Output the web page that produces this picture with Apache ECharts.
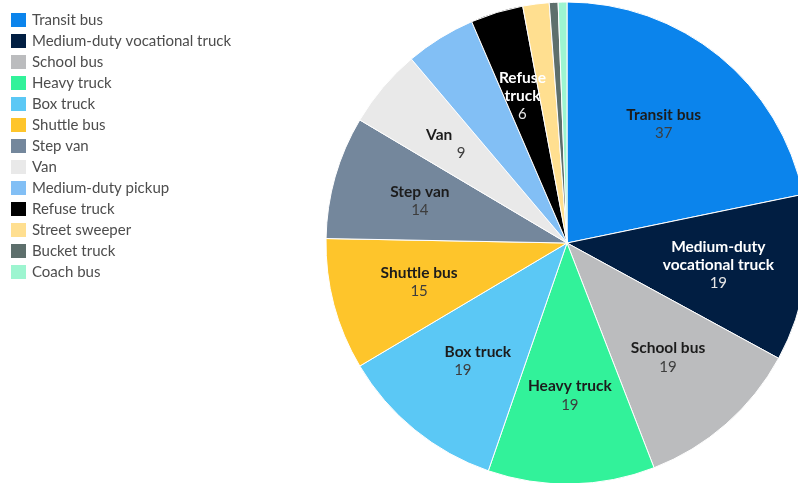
<!DOCTYPE html>
<html>
<head>
<meta charset="utf-8">
<script src="https://cdn.jsdelivr.net/npm/echarts@6/dist/echarts.min.js"></script>
<style>
  html, body { margin: 0; padding: 0; background: #fff; }
  #chart { width: 798px; height: 483px; }
</style>
</head>
<body>
<div id="chart"></div>
<script>
// Vehicle types and counts, clockwise from the top
const categories = [
  'Transit bus', 'Medium-duty vocational truck', 'School bus', 'Heavy truck',
  'Box truck', 'Shuttle bus', 'Step van', 'Van', 'Medium-duty pickup',
  'Refuse truck', 'Street sweeper', 'Bucket truck', 'Coach bus'
];
const counts = [37, 19, 19, 19, 19, 15, 14, 9, 8, 6, 3, 1, 1];
const colors = [
  '#0b84ec', '#011e42', '#bbbcbe', '#32f29a', '#5bc8f5', '#fec52b', '#74879c',
  '#e9e9e9', '#82bff5', '#000000', '#ffdf90', '#5d6f6c', '#9df5d0'
];
// Slice labels (empty = no label); dark slices get white text
const sliceLabels = [
  'Transit bus', 'Medium-duty\nvocational truck', 'School bus', 'Heavy truck',
  'Box truck', 'Shuttle bus', 'Step van', 'Van', '',
  'Refuse\ntruck', '', '', ''
];
const whiteText = ['Medium-duty vocational truck', 'Refuse truck'];

// horizontal nudge between name and value lines inside a label (px)
const labelNudge = { 'Van': -22, 'Box truck': 15 };

const chart = echarts.init(document.getElementById('chart'), null, { renderer: 'canvas' });

const center = [567, 243];
const outer = 241;

const pieData = categories.map((name, i) => ({
  name: name,
  value: counts[i],
  itemStyle: { color: colors[i] }
}));

const labelData = categories.map((name, i) => {
  const light = whiteText.includes(name);
  const text = sliceLabels[i];
  const nudge = labelNudge[name] || 0;
  const namePad = nudge < 0 ? [0, -nudge, 0, 0] : [0, 0, 0, nudge];
  const valuePad = nudge < 0 ? [0, 0, 0, -nudge] : [0, nudge, 0, 0];
  return {
    name: name,
    value: counts[i],
    itemStyle: { color: 'rgba(0,0,0,0)', borderWidth: 0 },
    label: {
      show: text !== '',
      formatter: () => '{n|' + text.split('\n').join('}\n{n|') + '}\n{v|' + counts[i] + '}',
      rich: {
        n: { fontFamily: 'Lato', fontWeight: 'bold', fontSize: 15.5, lineHeight: 18,
             color: light ? '#ffffff' : '#1c1c1c', align: 'center', padding: namePad },
        v: { fontFamily: 'Lato', fontSize: 15, lineHeight: 19,
             color: light ? '#e6e6e6' : '#3d3d3d', align: 'center', padding: valuePad }
      }
    }
  };
});

chart.setOption({
  animation: false,
  backgroundColor: '#ffffff',
  legend: {
    orient: 'vertical',
    left: 9,
    top: 11,
    padding: 0,
    itemWidth: 17,
    itemHeight: 16,
    itemGap: 3,
    icon: 'rect',
    data: categories,
    textStyle: { fontFamily: 'Lato', fontSize: 15, color: '#4d4d4d' }
  },
  series: [
    {
      type: 'pie',
      center: center,
      radius: [0, outer],
      startAngle: 90,
      clockwise: true,
      silent: true,
      label: { show: false },
      labelLine: { show: false },
      itemStyle: { borderColor: '#ffffff', borderWidth: 1 },
      data: pieData
    },
    {
      // transparent ring that only carries the slice labels
      type: 'pie',
      center: center,
      radius: [59, outer],
      startAngle: 90,
      clockwise: true,
      silent: true,
      legendHoverLink: false,
      label: { show: true, position: 'inside' },
      labelLine: { show: false },
      data: labelData
    }
  ]
});
</script>
</body>
</html>
